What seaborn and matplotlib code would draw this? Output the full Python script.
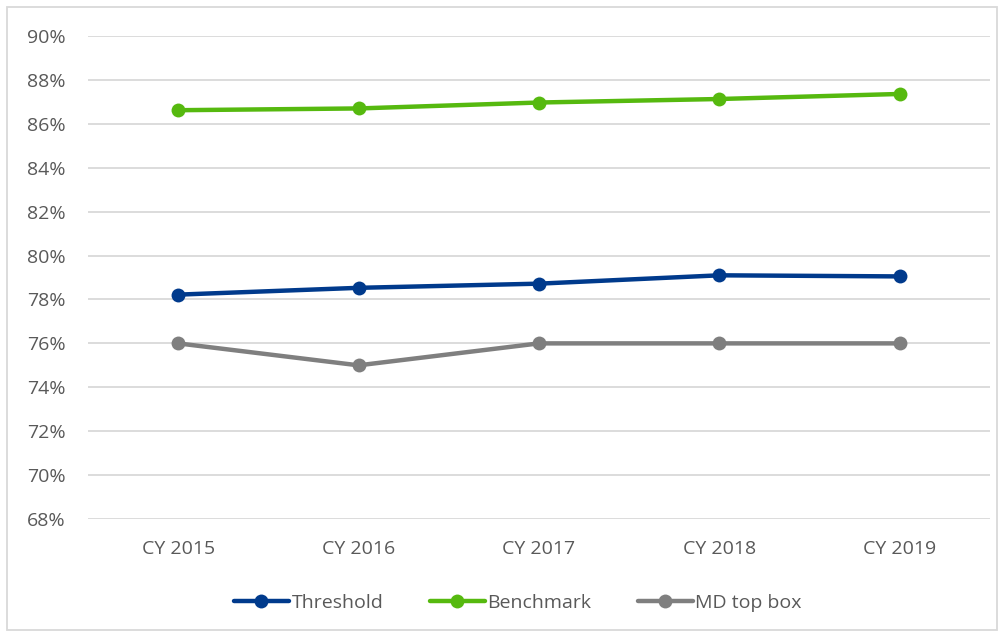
import pandas as pd
import seaborn as sns
import matplotlib.pyplot as plt
from matplotlib.ticker import PercentFormatter
from matplotlib.patches import Rectangle

sns.set_style("white")
plt.rcParams["font.family"] = ["Open Sans", "DejaVu Sans"]

years = ["CY 2015", "CY 2016", "CY 2017", "CY 2018", "CY 2019"]
threshold = [78.22, 78.53, 78.72, 79.1, 79.05]
benchmark = [86.62, 86.7, 86.97, 87.13, 87.36]
md_top_box = [76, 75, 76, 76, 76]

series = {"Threshold": threshold, "Benchmark": benchmark, "MD top box": md_top_box}
colors = {"Threshold": "#003A8C", "Benchmark": "#56B90F", "MD top box": "#7F7F7F"}

records = []
for name, vals in series.items():
    for yr, v in zip(years, vals):
        records.append({"Year": yr, "Value": v, "Series": name})
df = pd.DataFrame(records)

fig = plt.figure(figsize=(10.04, 6.37), dpi=100)
ax = fig.add_axes([0.0876, 0.1852, 0.8984, 0.7583])

sns.lineplot(
    data=df, x="Year", y="Value", hue="Series", palette=colors,
    marker="o", markersize=10, markeredgewidth=0, linewidth=3.2,
    sort=False, ax=ax,
)

ax.set_ylim(68, 90)
ax.set_yticks(range(68, 91, 2))
ax.yaxis.set_major_formatter(PercentFormatter(decimals=0))
ax.set_xlim(-0.5, 4.5)
ax.grid(axis="y", color="#D9D9D9", linewidth=1.3)
ax.set_axisbelow(True)
for s in ax.spines.values():
    s.set_visible(False)
ax.set_xlabel("")
ax.set_ylabel("")
ax.tick_params(axis="both", length=0, labelsize=14, labelcolor="#595959")
ax.tick_params(axis="y", pad=16)
ax.tick_params(axis="x", pad=15)

handles, labels = ax.get_legend_handles_labels()
ax.legend(
    handles, labels, loc="center", bbox_to_anchor=(0.516, 0.054),
    bbox_transform=fig.transFigure, ncol=3, frameon=False,
    fontsize=14, labelcolor="#595959", handlelength=2.8,
    handletextpad=0.15, columnspacing=2.4,
)

fig.patches.append(Rectangle((0.007, 0.011), 0.986, 0.978, transform=fig.transFigure,
                             fill=False, edgecolor="#D9D9D9", linewidth=1.3))

fig.savefig("out.png", dpi=100)
